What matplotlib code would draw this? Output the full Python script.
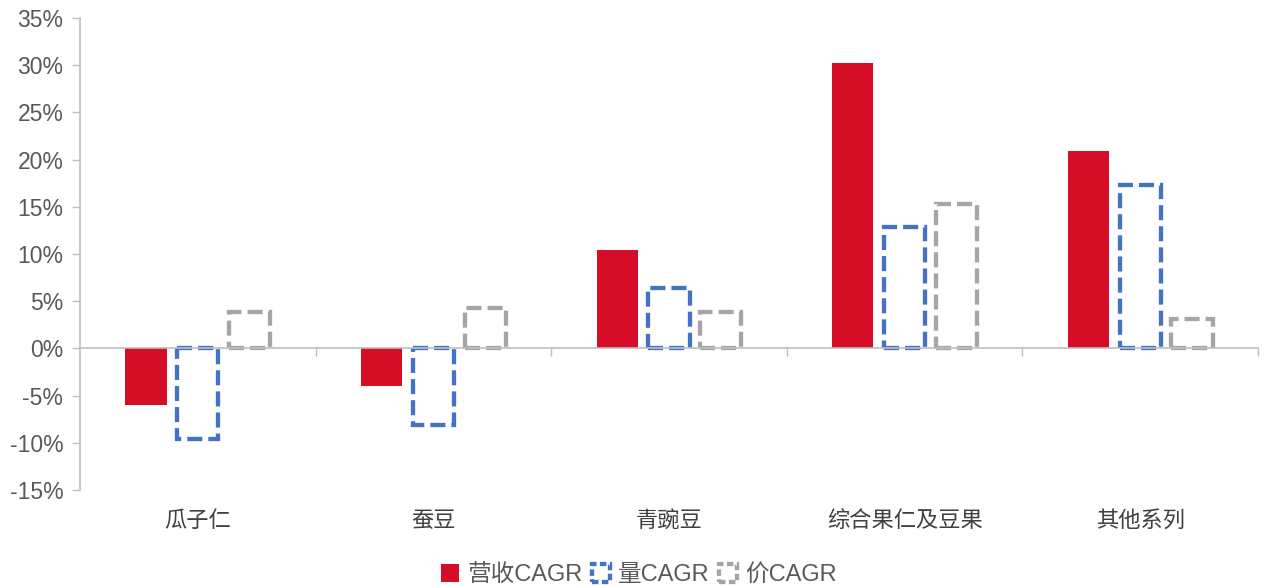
import matplotlib
matplotlib.use('Agg')
import matplotlib.pyplot as plt
from matplotlib.patches import Patch
from matplotlib.transforms import blended_transform_factory
import numpy as np

plt.rcParams['font.family'] = ['Liberation Sans', 'Noto Sans CJK SC', 'DejaVu Sans']

CATEGORIES = ['瓜子仁', '蚕豆', '青豌豆', '综合果仁及豆果', '其他系列']
REVENUE    = [-6.0, -4.0, 10.4, 30.2, 20.9]   # 营收CAGR, %
VOLUME     = [-9.6, -8.1, 6.4, 12.9, 17.3]    # 量CAGR, %
PRICE      = [3.9, 4.3, 3.9, 15.3, 3.1]       # 价CAGR, %
YTICKS     = [-15, -10, -5, 0, 5, 10, 15, 20, 25, 30, 35]
SERIES     = ['营收CAGR', '量CAGR', '价CAGR']

RED  = '#d60d26'
BLUE = '#4472c4'
GREY = '#a5a5a5'
AXIS = '#bfbfbf'
TXT  = '#595959'

fig = plt.figure(figsize=(12.65, 5.87), dpi=100)
ax = fig.add_axes([0.0632, 0.1652, 0.9313, 0.8041])

x = np.arange(len(CATEGORIES))
w = 0.175
off = 0.22
dash = (0, (3.5, 1.4))

ax.bar(x - off, REVENUE, w, color=RED, linewidth=0)
ax.bar(x, VOLUME, w, fill=False, edgecolor=BLUE, linewidth=3.1, linestyle=dash)
ax.bar(x + off, PRICE, w, fill=False, edgecolor=GREY, linewidth=3.1, linestyle=dash)

ax.set_xlim(-0.5, len(CATEGORIES) - 0.5)
ax.set_ylim(-15, 35)
ax.set_yticks(YTICKS)
ax.set_yticklabels([f'{v}%' for v in YTICKS], fontsize=16.5, color=TXT)
ax.tick_params(axis='y', length=6, width=1, color=AXIS, pad=6)

ax.spines['bottom'].set_position(('data', 0))
for s in ['top', 'right']:
    ax.spines[s].set_visible(False)
for s in ['left', 'bottom']:
    ax.spines[s].set_color(AXIS)
    ax.spines[s].set_linewidth(1.2)

ax.set_xticks(np.arange(len(CATEGORIES)) + 0.5)
ax.set_xticklabels([])
ax.tick_params(axis='x', length=6, width=1, color=AXIS, direction='out')

tr = blended_transform_factory(ax.transData, ax.transAxes)
for xi, lab in zip(x, CATEGORIES):
    ax.text(xi, -0.064, lab, transform=tr, ha='center', va='center',
            fontsize=16, color='#404040', family=['Noto Sans CJK SC', 'DejaVu Sans'])

handles = [
    Patch(facecolor=RED, edgecolor=RED, linewidth=0),
    Patch(facecolor='none', edgecolor=BLUE, linewidth=3.1, linestyle=(0, (1.5, 0.8))),
    Patch(facecolor='none', edgecolor=GREY, linewidth=3.1, linestyle=(0, (1.5, 0.8))),
]
leg = fig.legend(handles, SERIES, loc='center', bbox_to_anchor=(0.505, 0.02),
                 ncol=3, frameon=False, fontsize=17, handlelength=0.75,
                 handleheight=0.75, handletextpad=0.35, columnspacing=0.4,
                 borderaxespad=0)
for t in leg.get_texts():
    t.set_color(TXT)

fig.savefig('out.png', dpi=100)
